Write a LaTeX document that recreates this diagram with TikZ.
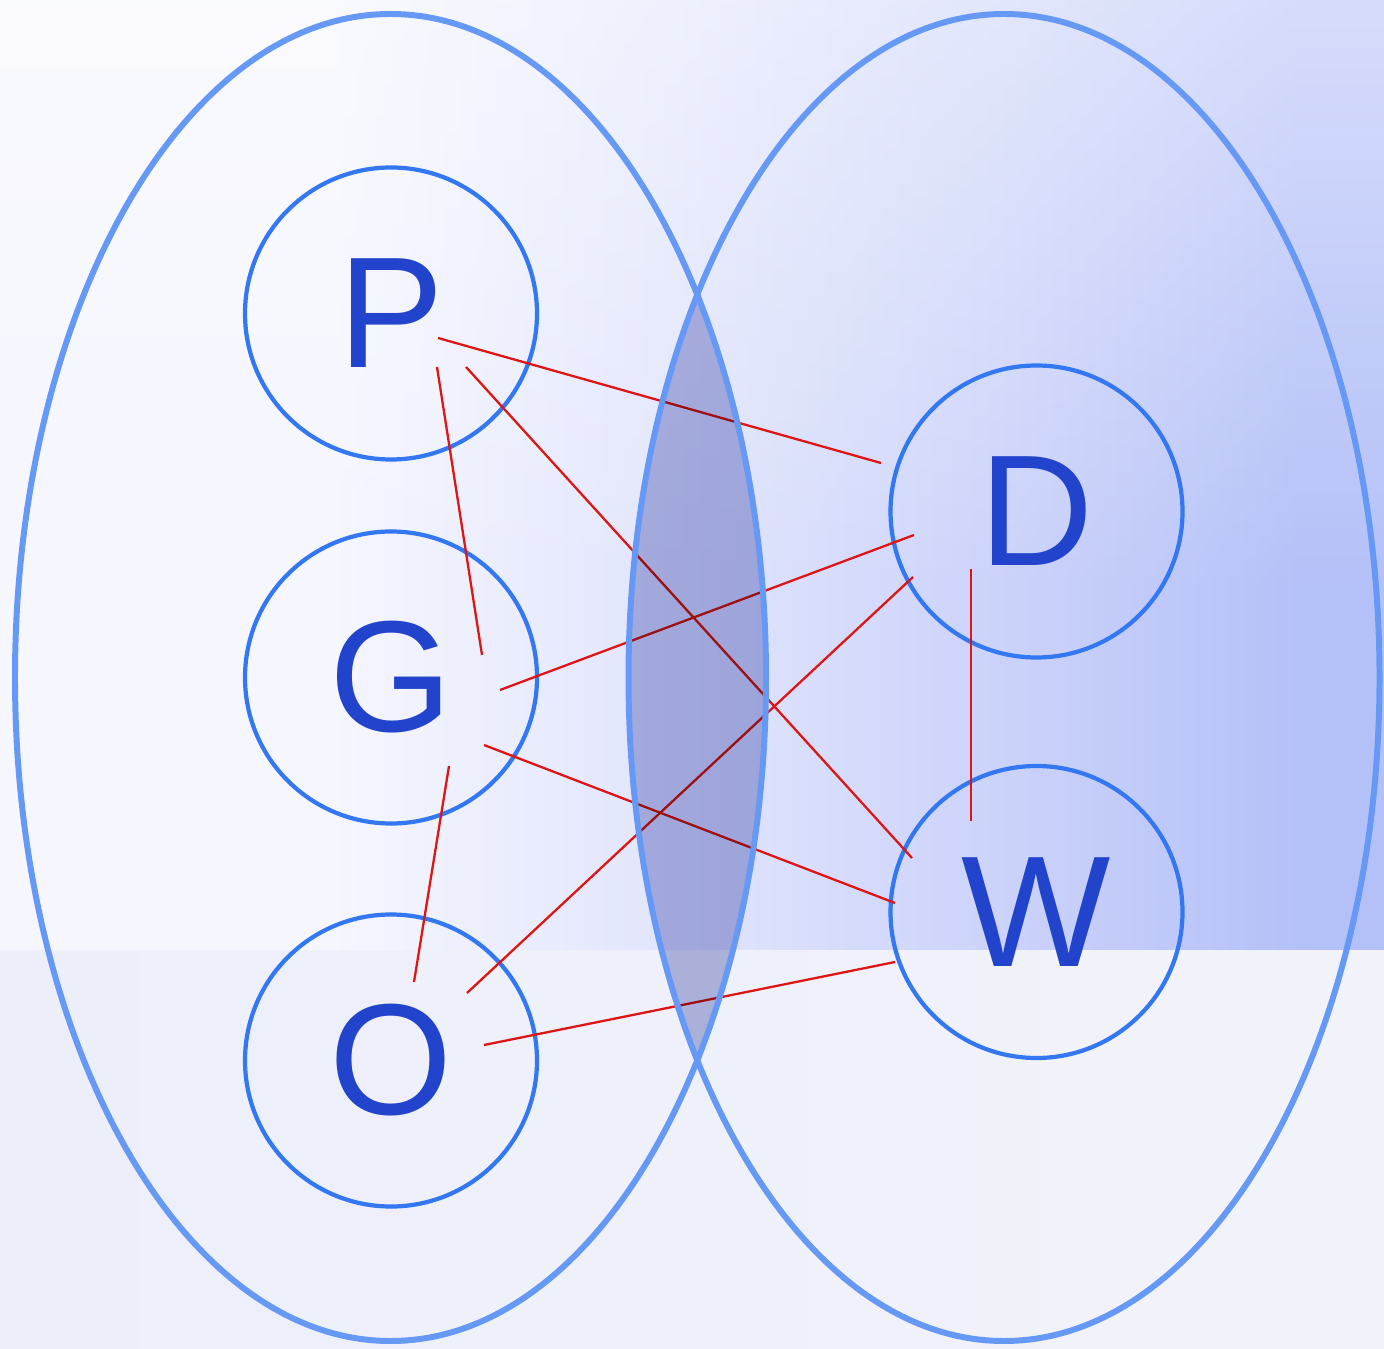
\documentclass[tikz,border=0pt]{standalone}
\usepackage{fontspec}
\setmainfont{Liberation Sans}
\usetikzlibrary{calc,fadings}
\definecolor{ringblue}{HTML}{6699F5}
\definecolor{nodeblue}{HTML}{3377F2}
\definecolor{letterblue}{HTML}{2244CC}
\definecolor{linkred}{HTML}{DD1515}
\definecolor{lensfill}{HTML}{B7BBDE}
\definecolor{bgwhite}{HTML}{F5F6FE}
\definecolor{bgmid}{HTML}{E0E4FC}
\definecolor{bgdeep}{HTML}{CCD3FA}
\definecolor{bgblue}{HTML}{B4C0F8}
\definecolor{bandleft}{HTML}{ECEEFA}
\definecolor{bandright}{HTML}{F2F3FA}
\pgfdeclarehorizontalshading{skyshade}{100bp}{color(0bp)=(bgwhite); color(37bp)=(bgwhite);
  color(50bp)=(bgmid); color(61bp)=(bgdeep); color(72bp)=(bgblue); color(100bp)=(bgblue)}

\begin{document}
\begin{tikzpicture}[x=1cm,y=1cm,
    set/.style={draw=ringblue,line width=1.7pt},
    item/.style={circle,draw=nodeblue,line width=1.2pt,minimum size=2.92cm,inner sep=0pt,
      text=letterblue,font=\fontsize{45}{45}\selectfont},
    link/.style={draw=linkred,line width=0.65pt}]
        \useasboundingbox (0,0) rectangle (13.84,13.48);
        \shade[shading=skyshade] (0,3.98) rectangle (13.84,13.48);
        \fill[white,fill opacity=0.45,path fading=south] (0,7.5) rectangle (13.84,13.48);
        \shade[left color=bandleft,right color=bandright] (0,0) rectangle (13.84,3.98);
        \node[item] (P) at (3.91,10.345) {P};
        \node[item] (G) at (3.91,6.705) {G};
        \node[item] (O) at (3.91,2.875) {O};
        \node[item] (D) at (10.365,8.365) {D};
        \node[item] (W) at (10.365,4.36) {W};
        \draw[link] ($(P)+(0.47,-0.245)$) -- ($(D)+(-1.555,0.485)$);
        \draw[link] ($(P)+(0.75,-0.535)$) -- ($(W)+(-1.245,0.54)$);
        \draw[link] ($(P)+(0.46,-0.535)$) -- ($(G)+(0.91,0.225)$);
        \draw[link] ($(G)+(1.09,-0.125)$) -- ($(D)+(-1.225,-0.235)$);
        \draw[link] ($(G)+(0.93,-0.675)$) -- ($(W)+(-1.415,0.09)$);
        \draw[link] ($(G)+(0.58,-0.885)$) -- ($(O)+(0.23,0.785)$);
        \draw[link] ($(O)+(0.76,0.675)$) -- ($(D)+(-1.235,-0.655)$);
        \draw[link] ($(O)+(0.93,0.155)$) -- ($(W)+(-1.415,-0.50)$);
        \draw[link] ($(D)+(-0.655,-0.575)$) -- ($(W)+(-0.655,0.91)$);
        \begin{scope}
            \clip (3.905,6.705) ellipse [x radius=3.755, y radius=6.635];
            \fill[lensfill,blend mode=multiply] (10.04,6.705) ellipse [x radius=3.755, y radius=6.635];
        \end{scope}
        \draw[set] (3.905,6.705) ellipse [x radius=3.755, y radius=6.635];
        \draw[set] (10.04,6.705) ellipse [x radius=3.755, y radius=6.635];
    \end{tikzpicture}
\end{document}
